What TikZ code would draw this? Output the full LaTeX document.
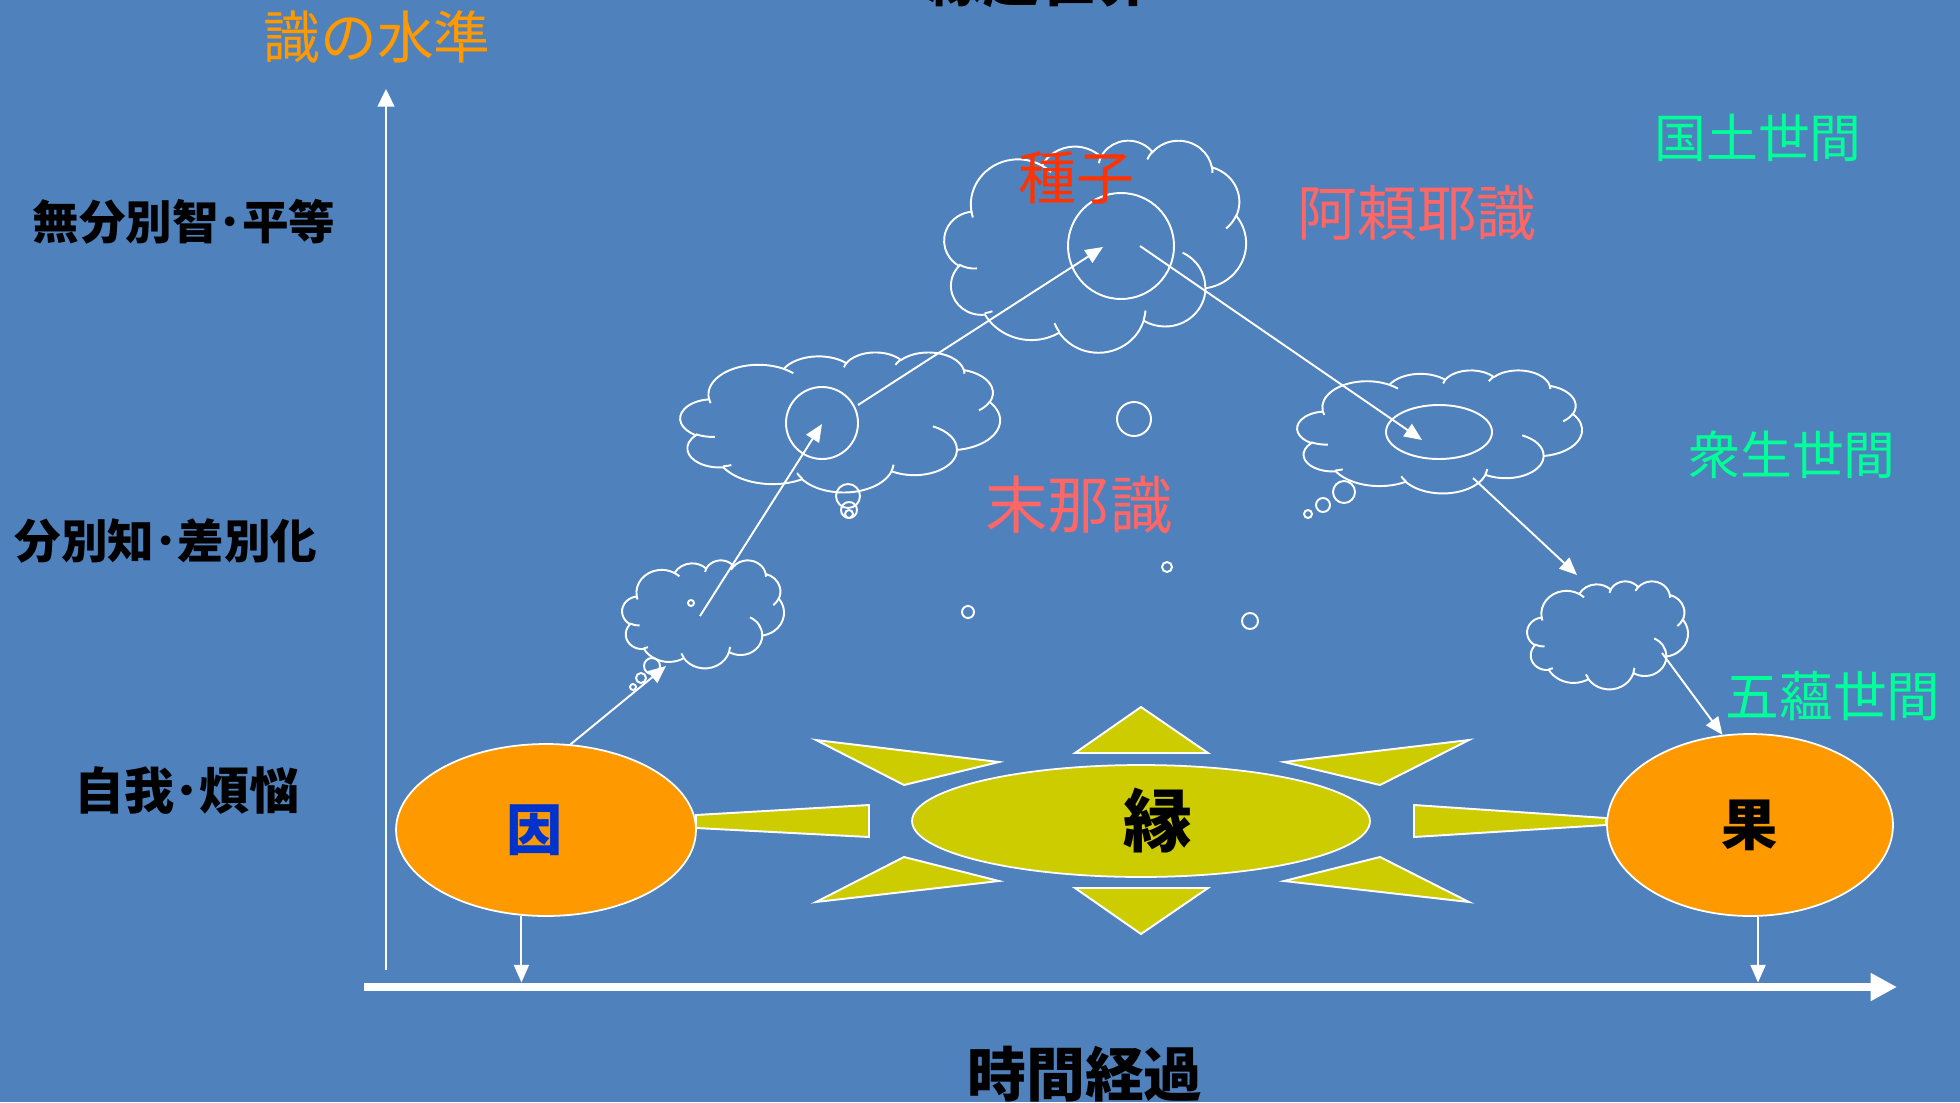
\documentclass[tikz,border=0pt]{standalone}
\usepackage{fontspec}
\setmainfont{Noto Sans CJK JP}
\usetikzlibrary{arrows.meta, shapes.geometric}
\definecolor{slideBlue}{HTML}{4F81BD}
\definecolor{causeOrange}{HTML}{FF9900}
\definecolor{condOlive}{HTML}{CCCC00}
\definecolor{realmGreen}{HTML}{00FF99}
\definecolor{seedRed}{HTML}{FF3300}
\definecolor{mindPink}{HTML}{FF6666}
\definecolor{causeBlue}{HTML}{0033CC}

% cloud outline with its inner curls: left, top, width, height (px)
\newcommand\pptcloud[4]{%
  \begin{scope}[shift={(#1,#2)}, xscale=#3/43.2, yscale=#4/43.2]
    \gdef\cloudpath{}%
    \foreach \cw/\ch/\ca/\cs in {6.753/9.190/-190.4875/123.7805,
        5.333/7.267/-144.1024/89.9452, 4.365/5.945/-145.8079/99.7230,
        4.857/6.595/-130.9861/117.2417, 5.333/7.273/-78.7089/109.0269,
        6.775/9.220/-46.2673/130.2690, 5.785/7.867/0.6250/114.0333,
        6.752/9.215/22.4516/115.1726, 7.720/10.543/66.2426/74.8854,
        4.360/5.918/-274.9421/146.7356, 4.345/5.945/-246.83/152.5}{%
      \pgfmathsetmacro\ta{atan2(\cw*sin(\ca), \ch*cos(\ca))}%
      \pgfmathsetmacro\tb{atan2(\cw*sin(\ca+\cs), \ch*cos(\ca+\cs))}%
      \pgfmathsetmacro\td{mod(\tb-\ta+720,360)}%
      \xdef\cloudpath{\cloudpath arc[x radius=\cw, y radius=\ch, start angle=\ta, delta angle=\td]}%
    }%
    \draw[cloudline] (3.9,14.37) \cloudpath -- cycle;
    \foreach \cx/\cy/\cw/\ch/\ca/\cs in {4.693/26.177/4.345/5.945/86.742/26.4295,
        6.928/34.899/4.360/5.918/73.6105/11.4475,
        16.478/39.090/6.752/9.215/137.6242/14.0811,
        28.827/34.751/6.752/9.215/6.4533/15.9984,
        34.129/22.954/5.785/7.867/-70.2924/70.9174,
        41.798/15.354/5.333/7.273/30.318/27.7515,
        38.324/5.426/4.857/6.595/-13.7443/14.8589,
        29.078/3.952/4.857/6.595/-149.1815/18.1954,
        22.141/4.720/4.365/5.945/-163.4943/17.6864,
        14.000/5.192/6.753/9.190/-66.707/12.3194,
        4.127/15.789/6.753/9.190/157.6544/11.8582}{%
      \pgfmathsetmacro\ta{atan2(\cw*sin(\ca), \ch*cos(\ca))}%
      \pgfmathsetmacro\tb{atan2(\cw*sin(\ca+\cs), \ch*cos(\ca+\cs))}%
      \pgfmathsetmacro\td{mod(\tb-\ta+720,360)}%
      \draw[cloudline] (\cx,\cy) arc[x radius=\cw, y radius=\ch, start angle=\ta, delta angle=\td];
    }
  \end{scope}}

\begin{document}
\begin{tikzpicture}[x=0.02cm, y=-0.02cm,
    link/.style={white, line width=1.1pt, -{Triangle[length=10pt, width=8.5pt]}},
    cloudline/.style={white, line width=1.1pt},
    orb/.style={ellipse, draw=white, line width=1pt, fill=causeOrange, inner sep=0pt},
    ray/.style={draw=white, line width=1.1pt, fill=condOlive},
    level/.style={font=\fontsize{26.5pt}{30pt}\selectfont\bfseries},
    realm/.style={text=realmGreen, font=\fontsize{29.5pt}{32pt}\selectfont},
    mind/.style={text=mindPink, font=\fontsize{34pt}{36pt}\selectfont}]
    \fill[slideBlue] (0,0) rectangle (1960,1102);
    \useasboundingbox (0,0) rectangle (1960,1102);

    % axes
    \coordinate (xstart) at (364,987);
    \coordinate (xend) at (1897,987);
    \coordinate (ybottom) at (386,970);
    \coordinate (ytop) at (386,89);
    \draw[white, line width=5.1pt, -{Triangle[length=15pt, width=15pt]}] (xstart) -- (xend);
    \draw[white, line width=1.1pt, -{Triangle[length=10pt, width=9.5pt]}] (ybottom) -- (ytop);

    \node[font=\fontsize{32pt}{34pt}\selectfont\bfseries, anchor=base] (world) at (1040,2) {縁起世界};
    \node[text=causeOrange, font=\fontsize{32.3pt}{34pt}\selectfont] (axisname) at (377,37) {識の水準};
    \node[font=\fontsize{33.5pt}{36pt}\selectfont\bfseries] (timename) at (1085,1074) {時間経過};

    \node[level] (lvlwisdom) at (184,222) {無分別智･平等};
    \node[level] (lvlmind) at (166,541) {分別知･差別化};
    \node[level, font=\fontsize{28.5pt}{30pt}\selectfont\bfseries] (lvlself) at (187,791) {自我･煩悩};

    \node[realm] (land) at (1758,138) {国土世間};
    \node[realm] (beings) at (1792,455) {衆生世間};
    \node[realm, font=\fontsize{30.6pt}{32pt}\selectfont] (skandha) at (1833,696) {五蘊世間};

    % thought clouds
    \pptcloud{944}{140}{302}{212}
    \pptcloud{680}{352}{320}{140}
    \pptcloud{622}{560}{162}{108}
    \pptcloud{1297}{370}{285}{123}
    \pptcloud{1527}{581}{161}{108}

    \draw[cloudline] (1121,246) circle[radius=53];
    \draw[cloudline] (822,423) circle[radius=36];
    \draw[cloudline] (1439,432) ellipse[x radius=53, y radius=27];
    \foreach \bx/\by/\br in {848/496/12, 849/510/8, 849/514/4,
        652/666/8, 641/678/5, 633/687/3, 1344/492/11, 1323/505/7, 1308/514/4,
        691/603/3, 1134/419/17, 1167/567/5, 968/612/6, 1250/621/8}
      \draw[cloudline] (\bx,\by) circle[radius=\br];

    \node[text=seedRed, font=\fontsize{33pt}{35pt}\selectfont] (seed) at (1076,178) {種子};
    \node[mind] (alaya) at (1417,213) {阿頼耶識};
    \node[mind, font=\fontsize{35.5pt}{37pt}\selectfont] (manas) at (1079,505) {末那識};

    % rays round the condition
    \draw[ray] (1141,707) -- (1208,753) -- (1075,753) -- cycle;
    \draw[ray] (1075,888) -- (1208,888) -- (1141,934) -- cycle;
    \draw[ray] (696,815) -- (869,805) -- (869,837) -- (696,828) -- cycle;
    \draw[ray] (1414,805) -- (1606,818) -- (1606,825) -- (1414,837) -- cycle;
    \draw[ray] (816,740) -- (999,762) -- (904,785) -- cycle;
    \draw[ray] (1469,740) -- (1284,762) -- (1380,785) -- cycle;
    \draw[ray] (816,902) -- (999,881) -- (904,857) -- cycle;
    \draw[ray] (1469,902) -- (1284,881) -- (1380,857) -- cycle;

    \node[orb, fill=condOlive, minimum width=9.16cm, minimum height=2.24cm,
        font=\fontsize{39pt}{40pt}\selectfont\bfseries] (cond) at (1141,821) {\hspace*{0.68cm}縁};
    \node[orb, minimum width=6cm, minimum height=3.44cm, text=causeBlue,
        font=\fontsize{32pt}{34pt}\selectfont\bfseries] (cause) at (546,830) {因\hspace*{0.44cm}};
    \node[orb, minimum width=5.72cm, minimum height=3.64cm,
        font=\fontsize{32pt}{34pt}\selectfont\bfseries] (effect) at (1750,825) {果};

    % path of the seed
    \coordinate (c1) at (666,666);
    \coordinate (c2a) at (700,616);
    \coordinate (c2b) at (822,424);
    \coordinate (c3a) at (858,405);
    \coordinate (c3b) at (1103,247);
    \coordinate (c4a) at (1140,246);
    \coordinate (c4b) at (1422,440);
    \coordinate (c5a) at (1473,478);
    \coordinate (c5b) at (1577,575);
    \coordinate (c6a) at (1662,653);
    \draw[link] (cause.74) -- (c1);
    \draw[link] (c2a) -- (c2b);
    \draw[link] (c3a) -- (c3b);
    \draw[link] (c4a) -- (c4b);
    \draw[link] (c5a) -- (c5b);
    \draw[link] (c6a) -- (effect.107);
    \draw[link, shorten >=0.09cm] (cause.254) -- (cause.254 |- xstart);
    \draw[link, shorten >=0.09cm] (effect.275) -- (effect.275 |- xstart);
\end{tikzpicture}
\end{document}
